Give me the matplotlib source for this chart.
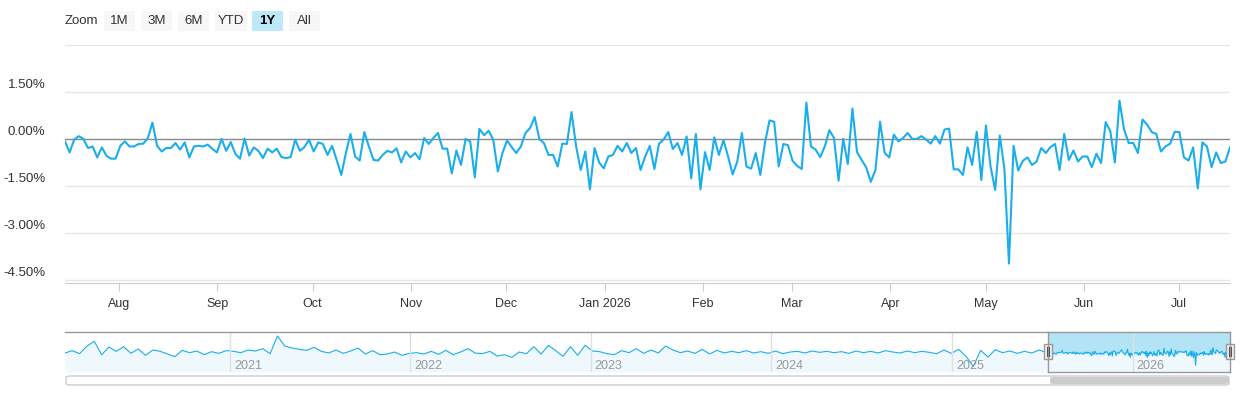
import numpy as np
import pandas as pd
import matplotlib.pyplot as plt
import matplotlib.dates as mdates
from matplotlib.patches import FancyBboxPatch, Rectangle

plt.rcParams["font.family"] = ["Liberation Sans", "DejaVu Sans"]
LINE = "#1aaeea"

# daily change in %, 1Y window
VALUES = [
    -0.08, -0.43, -0.02, 0.09, 0.0, -0.29, -0.24, -0.59, -0.27, -0.54, -0.63, -0.63, -0.22, -0.08,
    -0.24, -0.24, -0.16, -0.15, 0.03, 0.52, -0.22, -0.40, -0.29, -0.29, -0.13, -0.34, -0.11, -0.59,
    -0.24, -0.22, -0.24, -0.18, -0.32, -0.43, 0.0, -0.38, -0.10, -0.48, -0.63, 0.01, -0.53, -0.27,
    -0.38, -0.61, -0.31, -0.43, -0.31, -0.58, -0.61, -0.58, -0.02, -0.38, -0.26, -0.02, -0.40, -0.11,
    -0.16, -0.51, -0.22, -0.67, -1.15, -0.45, 0.16, -0.56,
    -0.69, 0.22, -0.24, -0.67, -0.69, -0.51, -0.38, -0.43, -0.30, -0.75, -0.40, -0.59, -0.45, -0.65,
    0.03, -0.16, 0.03, 0.19, -0.31, -0.31, -1.10, -0.37, -0.83, 0.0, -0.08, -1.23, 0.32, 0.12, 0.26,
    -0.02, -1.04, -0.45, -0.05, -0.26, -0.45, -0.24, 0.19, 0.35, 0.70, 0.0, -0.13, -0.51, -0.51,
    -0.88, -0.15, -0.16, 0.86, -0.24, -0.99, -0.40, -1.61, -0.29, -0.75, -0.94, -0.56, -0.51, -0.22,
    -0.40, -0.13, -0.45, -0.29, -0.99, -0.56,
    -0.22, -0.96, -0.15, -0.02, 0.22, -0.32, -0.13, -0.51, 0.08, -1.26, 0.16, -1.61, -0.42, -0.99,
    0.05, -0.51, -0.04, -0.56, -1.13, -0.72, 0.19, -0.88, -0.95, -0.45, -1.15, -0.13, 0.59, 0.55,
    -0.88, -0.16, -0.20, -0.70, -0.86, -0.96, 1.16, -0.24, -0.34, -0.58, -0.24, 0.28, 0.03, -1.33,
    0.0, -0.80, 0.97, -0.42, -0.67, -0.91, -1.37, -0.99, 0.55, -0.45, -0.59, 0.14, -0.08, 0.03,
    0.19, 0.0, 0.0, 0.09, -0.02, -0.15, 0.09,
    -0.15, 0.30, 0.33, -0.97, -0.97, -1.15, -0.27, -0.83, 0.23, -1.31, 0.43, -0.88, -1.63, 0.11,
    -0.94, -3.98, -0.22, -1.01, -0.70, -0.59, -0.83, -0.72, -0.29, -0.45, -0.26, -0.16, -0.99, 0.16,
    -0.67, -0.37, -0.72, -0.56, -0.56, -0.90, -0.47, -0.77, 0.54, 0.25, -0.75, 1.22, 0.30, -0.13,
    -0.13, -0.45, 0.62, 0.46, 0.22, 0.16, -0.40, -0.24, -0.15, 0.23, 0.22, -0.59, -0.69, -0.27,
    -1.58, -0.11, -0.24, -0.90, -0.43, -0.77, -0.72, -0.27,
]

# coarse history for the navigator, Feb 2020 - Jul 2025
HISTORY = [
    -0.3, 0.4, -0.5, 1.8, 3.2, -0.8, 1.5, 0.2, 1.6, -0.4, 0.9, -1.0, 0.6, 0.2, -0.6, -1.4, 0.5, -0.2,
    0.3, -0.8, 0.1, -0.4, 0.4, 0.2, -0.2, 0.6, 0.3, 1.0, -0.5, 4.8, 1.8, 1.2, 0.8, 0.5, 1.4, 0.2,
    -0.3, 0.6, -0.4, 0.3, 1.2, -0.6, 0.4, -0.8, -0.6, 0.0, -1.0, -0.4, -0.2, -0.6, 0.2, -0.7, 0.5,
    -0.8, 0.0, 1.0, -0.3, -0.5, 0.2, -1.2, -0.8, -1.6, 0.0, -0.5, 1.6, -0.6, 2.0, 0.4, -1.3, 1.6,
    -1.0, 2.0, 0.3, 0.1, -0.5, -0.8, 0.4, -0.2, 1.0, -0.4, 0.6, -0.3, 1.8, 0.6, -0.2, 0.3, -0.4,
    0.8, -0.6, 0.5, -0.3, 0.2, -0.2, 0.4, -0.3, 0.1, -0.4, 0.3, -0.5, 0.0, 0.2, -0.3, 0.3, -0.1,
    0.2, -0.2, 0.1, -0.4, 0.3, -0.2, 0.2, -0.3, 0.4, 0.0, -0.3, 0.3, -0.2, 0.2, -0.1, -0.5, 0.6,
    -0.4, 0.8, -1.3, -4.3, 0.5, -1.5, 0.7, -0.2, 0.3, -0.4, 0.2, -0.3, 0.6, -0.2,
]

Y_TICKS = [1.5, 0.0, -1.5, -3.0, -4.5]
BUTTONS = ["1M", "3M", "6M", "YTD", "1Y", "All"]

W, H = 1240, 400
fig = plt.figure(figsize=(W / 100, H / 100), dpi=100)


def fx(px):
    return px / W


def fy(py):
    return 1 - py / H


START, END = pd.Timestamp("2025-07-15"), pd.Timestamp("2026-07-17")
dates = pd.date_range(START, END, periods=len(VALUES))
hist_dates = pd.date_range("2020-02-03", "2025-07-11", periods=len(HISTORY))

# ---- main chart
ax = fig.add_axes([fx(65), fy(283), fx(1230 - 65), (283 - 45) / H])
ax.plot(dates, VALUES, color=LINE, lw=1.5, zorder=3)
ax.set_xlim(START, END)
ax.set_ylim(-4.6, 3.0)
for v in Y_TICKS + [3.0]:
    if v == 0:
        ax.axhline(v, color="#888888", lw=1, zorder=2)
    else:
        ax.axhline(v, color="#e6e6e6", lw=1, zorder=1)
ax.set_yticks([])
for v in Y_TICKS:
    ax.annotate(f"{v:.2f}%", xy=(0, v), xycoords=("axes fraction", "data"),
                xytext=(-14, 5), textcoords="offset points", ha="right", va="center",
                fontsize=9.5, color="#333333")
for s in ["top", "right", "left"]:
    ax.spines[s].set_visible(False)
ax.spines["bottom"].set_color("#cccccc")
months = pd.date_range("2025-08-01", "2026-07-01", freq="MS")
ax.set_xticks(months)
ax.set_xticklabels([m.strftime("%b") if m.month != 1 else "Jan 2026" for m in months])
ax.tick_params(axis="x", colors="#cccccc", labelcolor="#333333", labelsize=9, length=6, pad=5)

# ---- navigator
nav = fig.add_axes([fx(65), fy(372), fx(1230 - 65), 40 / H])
nx = list(hist_dates) + list(dates)
ny = HISTORY + VALUES
nav.fill_between(nx, ny, -6, color="#eef8fd", lw=0)
nav.plot(nx, ny, color=LINE, lw=0.8)
nav.set_xlim(pd.Timestamp("2020-02-03"), END)
nav.set_ylim(-6, 6)
nav.set_xticks([]); nav.set_yticks([])
for s in nav.spines.values():
    s.set_visible(False)
for yr in range(2021, 2027):
    t = pd.Timestamp(f"{yr}-01-01")
    nav.axvline(t, color="#e0e0e0", lw=1)
    nav.annotate(str(yr), xy=(t, 0), xycoords=("data", "axes fraction"), xytext=(3, 2),
                 textcoords="offset points", fontsize=9, color="#999999")
nav.axvspan(START, END, color="#a6e0f5", alpha=0.85, zorder=0.5)
fig.add_artist(plt.Line2D([fx(65), fx(1230)], [fy(332), fy(332)], color="#999999", lw=1))
fig.add_artist(plt.Line2D([fx(1048), fx(1230)], [fy(372), fy(372)], color="#999999", lw=1))
fig.add_artist(plt.Line2D([fx(1048), fx(1048)], [fy(332), fy(372)], color="#999999", lw=1))
fig.add_artist(plt.Line2D([fx(1230), fx(1230)], [fy(332), fy(372)], color="#999999", lw=1))
for hx in (1048, 1230):
    fig.add_artist(Rectangle((fx(hx - 4), fy(359)), fx(8), 15 / H, fc="#f2f2f2", ec="#999999", lw=1))
    for d in (-1, 1):
        fig.add_artist(plt.Line2D([fx(hx + d), fx(hx + d)], [fy(356), fy(347)], color="#555555", lw=0.8))

# scrollbar
fig.add_artist(FancyBboxPatch((fx(66), fy(385)), fx(1163), 9 / H, boxstyle="round,pad=0,rounding_size=0.004",
                              fc="#ffffff", ec="#cccccc", lw=1))
fig.add_artist(FancyBboxPatch((fx(1050), fy(384)), fx(179), 7 / H, boxstyle="round,pad=0,rounding_size=0.004",
                              fc="#cccccc", ec="none"))

# ---- range selector
fig.text(fx(65), fy(21), "Zoom", fontsize=9.5, color="#333333", va="center")
bx = [104, 141, 178, 215, 252, 289]
bw = [31, 31, 31, 32, 31, 31]
for x0, w, lab in zip(bx, bw, BUTTONS):
    sel = lab == "1Y"
    fig.add_artist(FancyBboxPatch((fx(x0), fy(31)), fx(w), 20 / H, boxstyle="round,pad=0,rounding_size=0.002",
                                  fc="#bde8f8" if sel else "#f7f7f7", ec="none"))
    fig.text(fx(x0 + w / 2), fy(21), lab, fontsize=9.5, color="#000000" if sel else "#333333",
             ha="center", va="center", fontweight="bold" if sel else "normal")

fig.savefig("out.png", dpi=100)
